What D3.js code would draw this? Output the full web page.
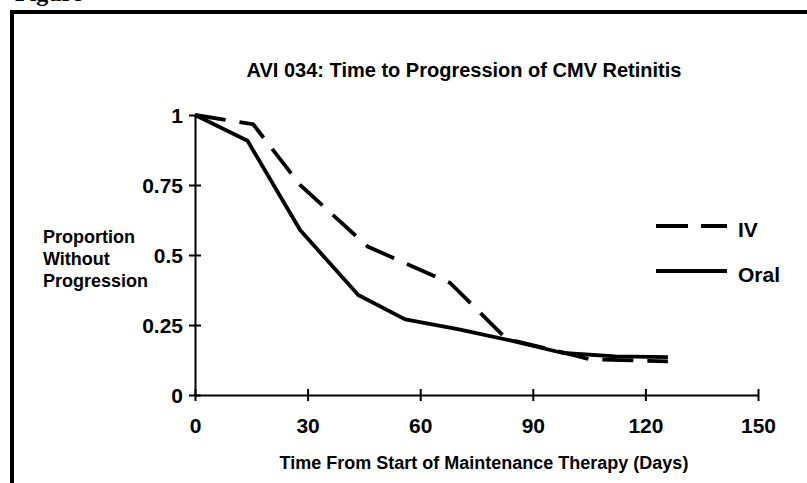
<!DOCTYPE html>
<html>
<head>
<meta charset="utf-8">
<script src="https://cdn.jsdelivr.net/npm/d3@7"></script>
<style>
  html, body { margin: 0; padding: 0; background: #fff; }
  svg { display: block; }
  text { font-family: "Liberation Sans", Arial, Helvetica, sans-serif; font-weight: bold; fill: #000; }
</style>
</head>
<body>
<svg id="chart" width="807" height="483"></svg>
<script>
// ---- data ----
const title = "AVI 034: Time to Progression of CMV Retinitis";
const xTitle = "Time From Start of Maintenance Therapy (Days)";
const yTitleLines = ["Proportion", "Without", "Progression"];
const xTicks = [0, 30, 60, 90, 120, 150];
const yTicks = [0, 0.25, 0.5, 0.75, 1];
const yTickLabels = ["0", "0.25", "0.5", "0.75", "1"];
const seriesNames = ["IV", "Oral"];
const ivDays = [0, 15.5, 28, 46, 68, 83, 98, 105, 126];
const ivValues = [1.0, 0.967, 0.75, 0.53, 0.40, 0.20, 0.152, 0.128, 0.12];
const oralDays = [0, 14, 28, 43.5, 56, 70, 84, 98, 112, 126];
const oralValues = [1.0, 0.908, 0.589, 0.357, 0.27, 0.235, 0.195, 0.15, 0.138, 0.135];

// ---- layout ----
const svg = d3.select("#chart");
const x = d3.scaleLinear().domain([0, 150]).range([195, 758]);
const y = d3.scaleLinear().domain([0, 1]).range([395, 115]);

// partially visible caption above frame (cut off in the reference as well)
svg.append("text").attr("x", 15).attr("y", 1)
  .style("font-family", "'Liberation Serif', 'Times New Roman', serif")
  .style("font-size", "24px").text("Figure");

// frame
svg.append("path")
  .attr("d", "M12,490 L12,12 L812,12")
  .attr("fill", "none").attr("stroke", "#000").attr("stroke-width", 4);

// title
svg.append("text").attr("x", 464).attr("y", 77).attr("text-anchor", "middle")
  .style("font-size", "20px").text(title);

// axes
const yAxis = d3.axisLeft(y).tickValues(yTicks)
  .tickFormat((d, i) => yTickLabels[i]).tickSizeInner(6).tickSizeOuter(0).tickPadding(6);
const gy = svg.append("g").attr("transform", `translate(${x(0)},0)`).call(yAxis);
gy.select(".domain").attr("stroke-width", 2);
gy.selectAll(".tick line").attr("stroke-width", 2).attr("x1", 6);
gy.selectAll(".tick text").style("font-size", "21px").attr("dy", "0.36em");

const xAxis = d3.axisBottom(x).tickValues(xTicks).tickSizeInner(6).tickSizeOuter(0).tickPadding(17);
const gx = svg.append("g").attr("transform", `translate(0,${y(0)})`).call(xAxis);
gx.select(".domain").attr("stroke-width", 2);
gx.selectAll(".tick line").attr("stroke-width", 2).attr("y1", -6);
gx.selectAll(".tick text").style("font-size", "21px");
gx.attr("font-family", null).attr("font-size", null);
gy.attr("font-family", null).attr("font-size", null);

// axis titles
svg.append("text").attr("x", 484).attr("y", 469).attr("text-anchor", "middle")
  .style("font-size", "18px").text(xTitle);
const yBase = [243, 265, 287];
yTitleLines.forEach((t, i) => {
  svg.append("text").attr("x", 43).attr("y", yBase[i]).style("font-size", "18px").text(t);
});

// lines
const line = d3.line().x(d => x(d[0])).y(d => y(d[1]));
const ivData = ivDays.map((d, i) => [d, ivValues[i]]);
const oralData = oralDays.map((d, i) => [d, oralValues[i]]);

svg.append("path").datum(oralData).attr("d", line)
  .attr("fill", "none").attr("stroke", "#000").attr("stroke-width", 3.8)
  .attr("stroke-linejoin", "round");
svg.append("path").datum(ivData).attr("d", line)
  .attr("fill", "none").attr("stroke", "#000").attr("stroke-width", 3.8)
  .attr("stroke-dasharray", "31,14");

// legend
const leg = [{ name: seriesNames[0], dash: "32,13", y: 226, ty: 237 },
             { name: seriesNames[1], dash: null, y: 271, ty: 282 }];
leg.forEach(l => {
  svg.append("line").attr("x1", 656).attr("x2", 727).attr("y1", l.y).attr("y2", l.y)
    .attr("stroke", "#000").attr("stroke-width", 3.8)
    .attr("stroke-dasharray", l.dash);
  svg.append("text").attr("x", 738).attr("y", l.ty).style("font-size", "21px").text(l.name);
});
</script>
</body>
</html>
